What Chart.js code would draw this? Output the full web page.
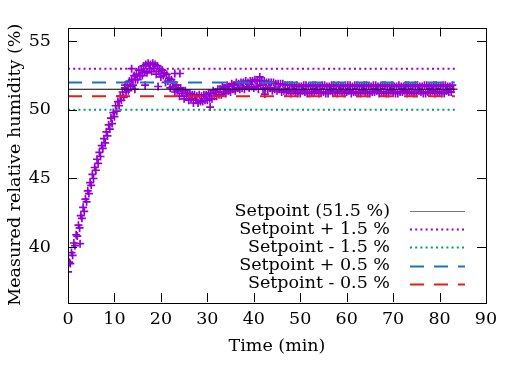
<!DOCTYPE html>
<html>
<head>
<meta charset="utf-8">
<script src="https://cdn.jsdelivr.net/npm/chart.js@4.4.1/dist/chart.umd.min.js"></script>
<style>
  html, body { margin: 0; padding: 0; background: #fff; }
  #wrap { width: 519px; height: 367px; }
</style>
</head>
<body>
<div id="wrap"><canvas id="humChart" width="519" height="367"></canvas></div>
<script>
// sample spacing of the humidity log, in minutes
const sampleStep = 0.25;

// measured relative humidity (%), one row per minute, 4 samples each
const humidity = [
  38.2, 38.9, 38.8, 39.6,  39.4, 40.3, 40.1, 40.9,  40.8, 41.6, 41.4, 42.3,
  42.1, 42.9, 42.6, 43.5,  43.3, 44.1, 43.9, 44.7,  44.5, 45.3, 45.0, 45.8,
  45.6, 46.4, 46.1, 46.9,  46.6, 47.4, 47.2, 47.9,  47.6, 48.4, 48.1, 48.9,
  48.6, 49.4, 49.0, 49.8,  49.5, 50.3, 49.9, 50.6,  50.3, 51.0, 50.7, 51.3,
  50.9, 51.6, 51.3, 51.8,  51.4, 52.1, 51.7, 52.2,  51.8, 52.5, 52.2, 52.6,
  52.2, 52.9, 52.5, 52.9,  52.5, 53.2, 52.8, 53.3,  52.7, 53.4, 53.0, 53.3,
  52.8, 53.4, 53.0, 53.3,  52.6, 53.2, 52.8, 53.0,  52.4, 52.9, 52.5, 52.7,
  52.0, 52.6, 52.1, 52.3,  51.6, 52.2, 51.7, 52.0,  51.3, 51.8, 51.4, 51.6,
  51.0, 51.6, 51.2, 51.4,  50.8, 51.4, 51.0, 51.2,  50.7, 51.2, 50.8, 51.1,
  50.5, 51.1, 50.7, 51.0,  50.5, 51.1, 50.6, 51.0,  50.6, 51.1, 50.7, 51.1,
  50.7, 51.2, 50.8, 51.2,  50.8, 51.4, 51.0, 51.3,  51.0, 51.5, 51.1, 51.5,
  51.1, 51.7, 51.3, 51.6,  51.2, 51.8, 51.4, 51.7,  51.3, 51.9, 51.5, 51.8,
  51.4, 52.0, 51.6, 51.9,  51.5, 52.0, 51.6, 52.0,  51.5, 52.1, 51.7, 52.0,
  51.6, 52.1, 51.7, 52.1,  51.6, 52.2, 51.7, 52.1,  51.5, 52.1, 51.8, 52.1,
  51.5, 52.1, 51.6, 52.0,  51.5, 52.0, 51.6, 52.0,  51.4, 52.0, 51.5, 51.9,
  51.4, 51.9, 51.5, 51.9,  51.3, 51.9, 51.4, 51.8,  51.3, 51.8, 51.4, 51.8,
  51.2, 51.8, 51.4, 51.7,  51.3, 51.8, 51.2, 51.7,  51.2, 51.7, 51.4, 51.8,
  51.3, 51.8, 51.2, 51.7,  51.2, 51.7, 51.3, 51.8,  51.3, 51.8, 51.4, 51.7,
  51.2, 51.7, 51.3, 51.8,  51.3, 51.8, 51.2, 51.7,  51.2, 51.7, 51.4, 51.8,
  51.3, 51.8, 51.3, 51.7,  51.2, 51.8, 51.4, 51.7,  51.3, 51.7, 51.2, 51.8,
  51.3, 51.8, 51.4, 51.8,  51.2, 51.7, 51.3, 51.8,  51.3, 51.8, 51.2, 51.7,
  51.2, 51.7, 51.4, 51.8,  51.3, 51.8, 51.2, 51.7,  51.2, 51.7, 51.3, 51.8,
  51.3, 51.8, 51.4, 51.7,  51.2, 51.7, 51.3, 51.8,  51.3, 51.8, 51.2, 51.7,
  51.2, 51.7, 51.4, 51.8,  51.3, 51.7, 51.2, 51.7,  51.2, 51.8, 51.3, 51.7,
  51.3, 51.7, 51.4, 51.8,  51.2, 51.8, 51.3, 51.7,  51.3, 51.7, 51.2, 51.8,
  51.2, 51.8, 51.4, 51.7,  51.3, 51.7, 51.2, 51.8,  51.2, 51.8, 51.3, 51.7,
  51.3, 51.7, 51.4, 51.8,  51.2, 51.8, 51.3, 51.7,  51.3, 51.7, 51.2, 51.8,
  51.2, 51.8, 51.4, 51.7,  51.3, 51.7, 51.3, 51.8,  51.5
];

// a few stray readings away from the main trace [time, humidity]
const strayTimes = [2.6, 12.3, 13.7, 14.4, 16.6, 19.4, 23.0, 24.1, 30.6, 41.3, 42.4];
const strayValues = [40.25, 51.8, 53.0, 51.5, 51.8, 51.7, 52.65, 52.65, 50.2, 52.4, 51.15];

// reference lines
const refLabels = ['Setpoint (51.5 %)', 'Setpoint + 1.5 %', 'Setpoint - 1.5 %', 'Setpoint + 0.5 %', 'Setpoint - 0.5 %'];
const refValues = [51.5, 53.0, 50.0, 52.0, 51.0];
const refEnd = [0, 83.3];

const xTicks = [0, 10, 20, 30, 40, 50, 60, 70, 80, 90];
const yTicks = [40, 45, 50, 55];

const refStyles = [
  { color: '#000000', width: 1, dash: [] },
  { color: '#9400d3', width: 2, dash: [2, 3.2] },
  { color: '#009e73', width: 2, dash: [2, 3.2] },
  { color: '#1a74c0', width: 2, dash: [14, 10] },
  { color: '#e51e10', width: 2, dash: [14, 10] }
];

const serif = '"DejaVu Serif", "Liberation Serif", serif';
const fontSize = 17.5;

const points = humidity.map((v, i) => ({ x: i * sampleStep, y: v }));
strayTimes.forEach((t, i) => points.push({ x: t, y: strayValues[i] }));

// reference lines first so they end up drawn over the data
const datasets = refLabels.map((lab, i) => ({
  type: 'line',
  label: lab,
  data: refEnd.map(t => ({ x: t, y: refValues[i] })),
  borderColor: refStyles[i].color,
  borderWidth: refStyles[i].width,
  borderDash: refStyles[i].dash,
  borderCapStyle: 'butt',
  pointRadius: 0,
  fill: false
}));
datasets.push({
  type: 'scatter',
  label: 'Measured',
  data: points,
  pointStyle: 'cross',
  pointRadius: 4,
  borderWidth: 1.7,
  borderColor: '#9400d3',
  backgroundColor: '#9400d3'
});

// gnuplot-like frame, inward ticks and in-plot key
const framePlugin = {
  id: 'frame',
  afterDraw(chart) {
    const ctx = chart.ctx;
    const a = chart.chartArea;
    const xs = chart.scales.x, ys = chart.scales.y;
    const tl = 9;
    ctx.save();
    ctx.strokeStyle = '#000';
    ctx.lineWidth = 1;
    ctx.beginPath();
    xTicks.forEach(v => {
      if (v === xs.min || v === xs.max) return;
      const px = Math.round(xs.getPixelForValue(v)) + 0.5;
      ctx.moveTo(px, a.bottom); ctx.lineTo(px, a.bottom - tl);
      ctx.moveTo(px, a.top); ctx.lineTo(px, a.top + tl);
    });
    yTicks.forEach(v => {
      const py = Math.round(ys.getPixelForValue(v)) + 0.5;
      ctx.moveTo(a.left, py); ctx.lineTo(a.left + tl, py);
      ctx.moveTo(a.right, py); ctx.lineTo(a.right - tl, py);
    });
    ctx.stroke();
    ctx.strokeRect(Math.round(a.left) + 0.5, Math.round(a.top) + 0.5,
      Math.round(a.right - a.left), Math.round(a.bottom - a.top));

    // key
    ctx.font = fontSize + 'px ' + serif;
    ctx.fillStyle = '#000';
    ctx.textAlign = 'right';
    ctx.textBaseline = 'middle';
    const keyTextX = 390, keyLineX0 = 410, keyLineX1 = 465;
    refLabels.forEach((lab, i) => {
      const y = 211 + i * 18.2;
      ctx.fillText(lab, keyTextX, y);
      const st = refStyles[i];
      ctx.strokeStyle = i === 0 ? '#777' : st.color;
      ctx.lineWidth = st.width;
      ctx.setLineDash(st.dash);
      ctx.beginPath();
      ctx.moveTo(keyLineX0, Math.round(y) + 0.5);
      ctx.lineTo(keyLineX1, Math.round(y) + 0.5);
      ctx.stroke();
    });
    ctx.restore();
  }
};

new Chart(document.getElementById('humChart'), {
  data: { datasets: datasets },
  options: {
    responsive: false,
    animation: false,
    layout: { padding: { top: 18, right: 33, left: 0, bottom: 0 } },
    plugins: { legend: { display: false }, tooltip: { enabled: false } },
    scales: {
      x: {
        type: 'linear',
        min: 0, max: 90,
        afterBuildTicks: s => { s.ticks = xTicks.map(v => ({ value: v })); },
        afterFit: s => { s.height = 65; },
        grid: { display: false, drawTicks: false },
        border: { display: false },
        ticks: { color: '#000', padding: 7, maxRotation: 0, font: { family: serif, size: fontSize } },
        title: {
          display: true, text: 'Time (min)', color: '#000',
          padding: { top: 0, bottom: 10 },
          font: { family: serif, size: fontSize }
        }
      },
      y: {
        type: 'linear',
        min: 36, max: 56,
        afterBuildTicks: s => { s.ticks = yTicks.map(v => ({ value: v })); },
        afterFit: s => { s.width = 68; },
        grid: { display: false, drawTicks: false },
        border: { display: false },
        ticks: { color: '#000', padding: 17, font: { family: serif, size: fontSize } },
        title: {
          display: true, text: 'Measured relative humidity (%)', color: '#000',
          padding: { top: 5, bottom: 0 },
          font: { family: serif, size: fontSize }
        }
      }
    }
  },
  plugins: [framePlugin]
});
</script>
</body>
</html>
